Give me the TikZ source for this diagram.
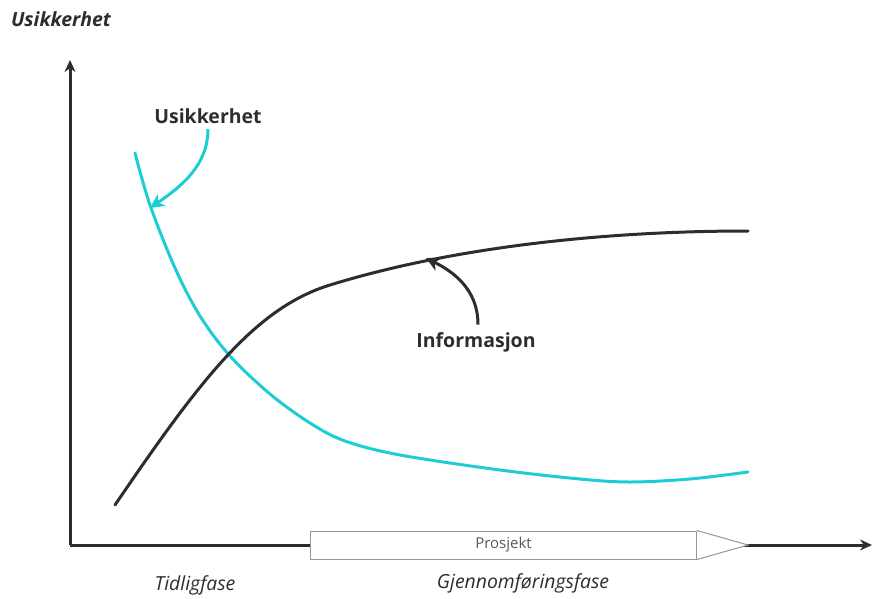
\documentclass[tikz,border=0pt]{standalone}
\usepackage{fontspec}
\setmainfont{Open Sans}
\usetikzlibrary{arrows.meta}
\definecolor{curvecyan}{RGB}{30,205,212}
\definecolor{inkdark}{RGB}{45,45,45}
\definecolor{boxgray}{RGB}{150,150,150}
\begin{document}
\begin{tikzpicture}[x=1pt,y=-1pt,
  axisline/.style={draw=inkdark,line width=3pt,-{Stealth[length=12pt,width=11pt]}},
  curvecy/.style={draw=curvecyan,line width=3pt},
  curveblk/.style={draw=inkdark,line width=3pt},
  callout/.style={line width=3pt,-{Stealth[length=14pt,width=14pt,inset=4pt]}},
  label/.style={font=\bfseries\fontsize{19.5}{22}\selectfont,text=inkdark},
  phase/.style={font=\itshape\fontsize{19.4}{22}\selectfont,text=inkdark}]
\path[use as bounding box] (0,0) rectangle (872,599);

% axes
\coordinate (origin) at (70,545);
\coordinate (ytip) at (70,60);
\coordinate (xtip) at (872,545);
\draw[axisline] (origin) -- (ytip);
\draw[axisline] (origin) -- (xtip);

% project bar with arrow head
\node[draw=boxgray,fill=white,line width=1pt,minimum width=386pt,minimum height=28pt,
  anchor=west,inner sep=0pt,text=black!65,font=\fontsize{15}{17}\selectfont] (proj) at (310,545) {\raisebox{-1.5pt}{Prosjekt}};
\draw[draw=boxgray,fill=white,line width=1pt] (proj.north east) -- (748,545) -- (proj.south east);

% uncertainty curve
\draw[curvecy,line cap=round] plot[smooth,tension=0.55] coordinates{
  (135,153) (150,205) (175,268) (200,316) (230,356) (270,394) (310,423) (345,441)
  (400,455) (500,470) (580,479) (630,482) (690,479) (748,472)};

% information curve
\draw[curveblk,line cap=round] (115,505) .. controls (200,380) and (255,308) .. (330,285)
  .. controls (450,248) and (600,231) .. (748,231);

% labels
\node[font=\bfseries\itshape\fontsize{19.5}{22}\selectfont,text=inkdark] (ylab) at (61,19) {Usikkerhet};
\node[label] (ulab) at (208,116) {Usikkerhet};
\node[label] (ilab) at (476,342) {Informasjon};
\node[phase] (tidlig) at (195,585) {Tidligfase};
\node[phase] (gjen) at (523,583) {Gjennomføringsfase};

% callout arrows
\coordinate (uhit) at (150,208);
\coordinate (ihit) at (426,258);
\draw[callout,curvecyan] (ulab.south -| 208,0) ++(0,2) .. controls (208,165) and (182,186) .. (uhit);
\draw[callout,inkdark] (ilab.north -| 478,0) ++(0,-4) .. controls (478,296) and (462,276) .. (ihit);
\end{tikzpicture}
\end{document}
